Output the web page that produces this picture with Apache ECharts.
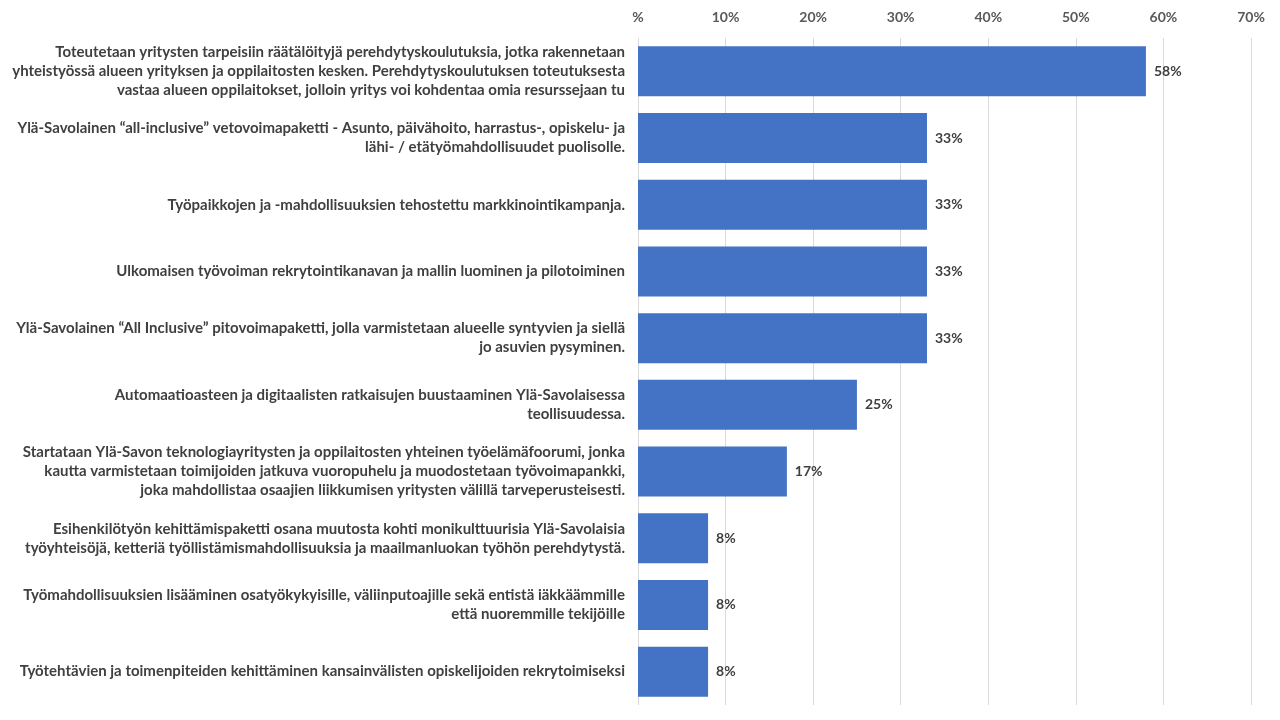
<!DOCTYPE html>
<html>
<head>
    <meta charset="UTF-8">
    <title></title>
    <script src="https://cdn.jsdelivr.net/npm/echarts@6/dist/echarts.min.js"></script>
    <style>
        html, body { margin: 0; padding: 0; background: #fff; }
    </style>
</head>
<body>
<div id="main" style="width: 1280px;height:720px;"></div>
<script type="text/javascript">
    // kategoriat, rivinvaihdot kuten alkuperäisessä kuvassa
    var categories = [
        'Toteutetaan yritysten tarpeisiin räätälöityjä perehdytyskoulutuksia, jotka rakennetaan\nyhteistyössä alueen yrityksen ja oppilaitosten kesken. Perehdytyskoulutuksen toteutuksesta\nvastaa alueen oppilaitokset, jolloin yritys voi kohdentaa omia resurssejaan tu',
        'Ylä-Savolainen “all-inclusive” vetovoimapaketti - Asunto, päivähoito, harrastus-, opiskelu- ja\nlähi- / etätyömahdollisuudet puolisolle.',
        'Työpaikkojen ja -mahdollisuuksien tehostettu markkinointikampanja.',
        'Ulkomaisen työvoiman rekrytointikanavan ja mallin luominen ja pilotoiminen',
        'Ylä-Savolainen “All Inclusive” pitovoimapaketti, jolla varmistetaan alueelle syntyvien ja siellä\njo asuvien pysyminen.',
        'Automaatioasteen ja digitaalisten ratkaisujen buustaaminen Ylä-Savolaisessa\nteollisuudessa.',
        'Startataan Ylä-Savon teknologiayritysten ja oppilaitosten yhteinen työelämäfoorumi, jonka\nkautta varmistetaan toimijoiden jatkuva vuoropuhelu ja muodostetaan työvoimapankki,\njoka mahdollistaa osaajien liikkumisen yritysten välillä tarveperusteisesti.',
        'Esihenkilötyön kehittämispaketti osana muutosta kohti monikulttuurisia Ylä-Savolaisia\ntyöyhteisöjä, ketteriä työllistämismahdollisuuksia ja maailmanluokan työhön perehdytystä.',
        'Työmahdollisuuksien lisääminen osatyökykyisille, väliinputoajille sekä entistä iäkkäämmille\nettä nuoremmille tekijöille',
        'Työtehtävien ja toimenpiteiden kehittäminen kansainvälisten opiskelijoiden rekrytoimiseksi'
    ];
    var values = [58, 33, 33, 33, 33, 25, 17, 8, 8, 8];
    var xTicks = [0, 10, 20, 30, 40, 50, 60, 70];

    var myChart = echarts.init(document.getElementById('main'));
    var font = 'Lato, "Open Sans", sans-serif';
    var labelSize = 15;

    // rivit keskitetään: lyhyemmille riveille lisätään välilyöntejä alkuun
    var ctx = document.createElement('canvas').getContext('2d');
    ctx.font = 'bold ' + labelSize + 'px ' + font;
    var spaceW = ctx.measureText('\u00a0\u00a0\u00a0\u00a0\u00a0\u00a0\u00a0\u00a0\u00a0\u00a0').width / 10;
    function centerLines(text) {
        var lines = text.split('\n');
        var widths = lines.map(function (s) { return ctx.measureText(s).width; });
        var w = Math.max.apply(null, widths);
        return lines.map(function (s, j) {
            var n = Math.round((w - widths[j]) / 2 / spaceW);
            return new Array(n + 1).join('\u00a0') + s;
        }).join('\n');
    }

    option = {
        animation: false,
        grid: {
            left: 638,
            right: 29,
            top: 38,
            bottom: 15,
            containLabel: false,
            outerBoundsMode: 'none'
        },
        xAxis: {
            type: 'value',
            position: 'top',
            min: xTicks[0],
            max: xTicks[xTicks.length - 1],
            interval: 10,
            axisLine: { show: false },
            axisTick: { show: false },
            axisLabel: {
                margin: 14,
                color: '#595959',
                fontFamily: font,
                fontWeight: 'bold',
                fontSize: 14,
                formatter: function (v) {
                    return v === 0 ? '%' : v + '%';
                }
            },
            splitLine: {
                lineStyle: { color: '#d9d9d9', width: 1 }
            }
        },
        yAxis: {
            type: 'category',
            inverse: true,
            data: categories,
            axisLine: { show: false },
            axisTick: { show: false },
            axisLabel: {
                margin: 13,
                align: 'right',
                color: '#404040',
                fontFamily: font,
                fontWeight: 'bold',
                fontSize: labelSize,
                lineHeight: 19,
                formatter: function (v) {
                    return centerLines(v);
                }
            }
        },
        series: [{
            type: 'bar',
            data: values,
            barCategoryGap: '25%',
            itemStyle: { color: '#4472c4' },
            label: {
                show: true,
                position: 'right',
                distance: 8,
                formatter: '{c}%',
                color: '#404040',
                fontFamily: font,
                fontWeight: 'bold',
                fontSize: 14
            }
        }]
    };
    myChart.setOption(option);
</script>
</body>
</html>
